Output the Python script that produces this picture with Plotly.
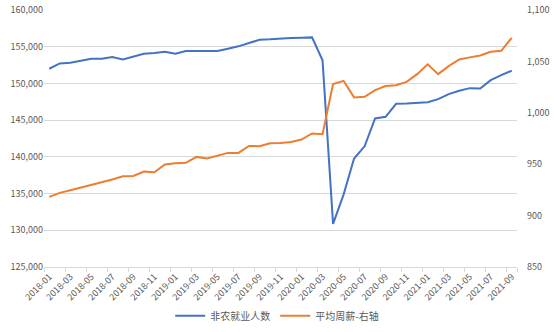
import plotly.graph_objects as go

months = [f"{y}-{m:02d}" for y in (2018, 2019, 2020, 2021) for m in range(1, 13)][:45]

# 非农就业人数 (千人)
payrolls = [
    152000, 152730, 152820, 153050, 153360, 153360, 153590, 153270, 153680, 154045,
    154140, 154320, 154045, 154410, 154410, 154410, 154410, 154730, 155050, 155500,
    155950, 156000, 156140, 156180, 156230, 156270, 153140, 130870, 134860, 139770,
    141440, 145230, 145450, 147230, 147270, 147320, 147450, 147860, 148550, 149000,
    149360, 149320, 150450, 151140, 151730,
]

# 平均周薪 (美元)
weekly_pay = [
    918.2, 922.1, 924.7, 927.3, 929.9, 932.2, 935.1, 938.3, 938.6, 942.9,
    942.2, 949.7, 951.0, 951.3, 957.1, 955.5, 958.1, 961.0, 961.0, 967.8,
    967.5, 970.4, 970.7, 971.7, 974.0, 979.9, 979.2, 1027.9, 1031.1, 1015.0,
    1015.5, 1022.0, 1026.0, 1026.9, 1030.1, 1037.6, 1047.1, 1037.6, 1045.4, 1051.9,
    1053.9, 1055.8, 1059.4, 1060.3, 1073.0,
]

tick_months = months[::2]

font_family = "Noto Sans CJK SC, Noto Sans, sans-serif"
label_color = "#595959"

fig = go.Figure()
fig.add_trace(go.Scatter(
    x=months, y=payrolls, name="非农就业人数", mode="lines",
    line=dict(color="#4472C4", width=2), yaxis="y",
))
fig.add_trace(go.Scatter(
    x=months, y=weekly_pay, name="平均周薪-右轴", mode="lines",
    line=dict(color="#ED7D31", width=2), yaxis="y2",
))

fig.update_layout(
    width=554, height=332,
    margin=dict(l=44, r=37, t=10, b=65, autoexpand=False),
    paper_bgcolor="white", plot_bgcolor="white",
    font=dict(family=font_family, size=9, color=label_color),
    showlegend=True,
    legend=dict(
        orientation="h", x=0.493, xanchor="center", y=-0.19, yanchor="middle",
        font=dict(size=10, color=label_color), itemwidth=30,
    ),
    xaxis=dict(
        type="category", categoryorder="array", categoryarray=months,
        tickmode="array", tickvals=tick_months, ticktext=tick_months,
        tickangle=-45, tickfont=dict(size=9, color=label_color),
        showgrid=False, showline=True, linecolor="#D9D9D9", linewidth=1,
        ticks="outside", ticklen=4, tickcolor="#D9D9D9", tickson="boundaries",
        range=[-0.5, 44.5], automargin=False,
    ),
    yaxis=dict(
        range=[125000, 160000], dtick=5000, tickformat=",",
        showgrid=True, gridcolor="#D9D9D9", gridwidth=1,
        zeroline=False, showline=False, ticks="", automargin=False,
        tickfont=dict(size=9, color=label_color),
    ),
    yaxis2=dict(
        range=[850, 1100], dtick=50, tickformat=",",
        overlaying="y", side="right", showgrid=False, zeroline=False,
        showline=False, ticks="", ticklabelstandoff=9, automargin=False,
        tickfont=dict(size=9, color=label_color),
    ),
)

fig.write_html("out.html")
